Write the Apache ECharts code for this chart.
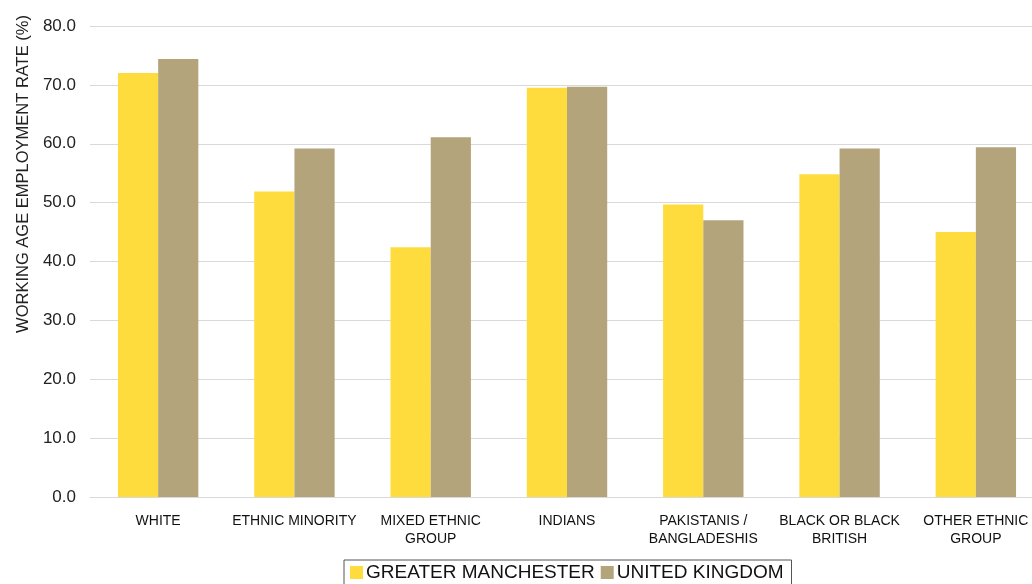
<!DOCTYPE html>
<html>
<head>
<meta charset="utf-8">
<script src="https://cdn.jsdelivr.net/npm/echarts@6/dist/echarts.min.js"></script>
<style>
  html, body { margin: 0; padding: 0; background: #fff; overflow: hidden; }
  /* plot area runs past the right edge of the window, as in the reference */
  #chart { width: 1044px; height: 584px; }
</style>
</head>
<body>
<div id="chart"></div>
<script>
// categories (x axis)
const categories = [
  "WHITE",
  "ETHNIC MINORITY",
  "MIXED ETHNIC\nGROUP",
  "INDIANS",
  "PAKISTANIS /\nBANGLADESHIS",
  "BLACK OR BLACK\nBRITISH",
  "OTHER ETHNIC\nGROUP"
];
// employment rate, %
const greaterManchester = [72.0, 51.9, 42.4, 69.5, 49.7, 54.8, 45.0];
const unitedKingdom = [74.4, 59.2, 61.1, 69.7, 47.0, 59.2, 59.4];

const chart = echarts.init(document.getElementById("chart"));
const font = "'Liberation Sans', Arial, sans-serif";

chart.setOption({
  animation: false,
  color: ["#FEDC3D", "#B3A47C"],
  grid: {
    left: 90,
    right: 0,
    top: 26,
    bottom: 87
  },
  legend: {
    top: 560,
    left: 344,
    itemWidth: 13,
    itemHeight: 13,
    itemGap: 6,
    icon: "rect",
    borderColor: "#555",
    borderWidth: 1,
    padding: [3, 8, 4, 6],
    textStyle: { fontFamily: font, fontSize: 19, color: "#111", padding: [0, 0, 0, -2] },
    data: ["GREATER MANCHESTER", "UNITED KINGDOM"]
  },
  xAxis: {
    type: "category",
    data: categories,
    axisLine: { lineStyle: { color: "#d9d9d9" } },
    axisTick: { show: false },
    axisLabel: {
      interval: 0,
      margin: 15,
      fontFamily: font,
      fontSize: 14,
      lineHeight: 18,
      color: "#111"
    }
  },
  yAxis: {
    type: "value",
    min: 0,
    max: 80,
    interval: 10,
    axisLine: { show: false },
    axisTick: { show: false },
    splitLine: { lineStyle: { color: "#d9d9d9" } },
    axisLabel: {
      margin: 14,
      fontFamily: font,
      fontSize: 17,
      color: "#222",
      formatter: v => v.toFixed(1)
    }
  },
  graphic: [{
    type: "text",
    x: 23,
    y: 174,
    rotation: Math.PI / 2,
    style: {
      text: "WORKING AGE EMPLOYMENT RATE (%)",
      font: "16.5px " + font,
      fill: "#222",
      textAlign: "center",
      textVerticalAlign: "middle"
    }
  }],
  series: [
    {
      name: "GREATER MANCHESTER",
      type: "bar",
      data: greaterManchester,
      barGap: "0%",
      barCategoryGap: "41%"
    },
    {
      name: "UNITED KINGDOM",
      type: "bar",
      data: unitedKingdom
    }
  ]
});
</script>
</body>
</html>
